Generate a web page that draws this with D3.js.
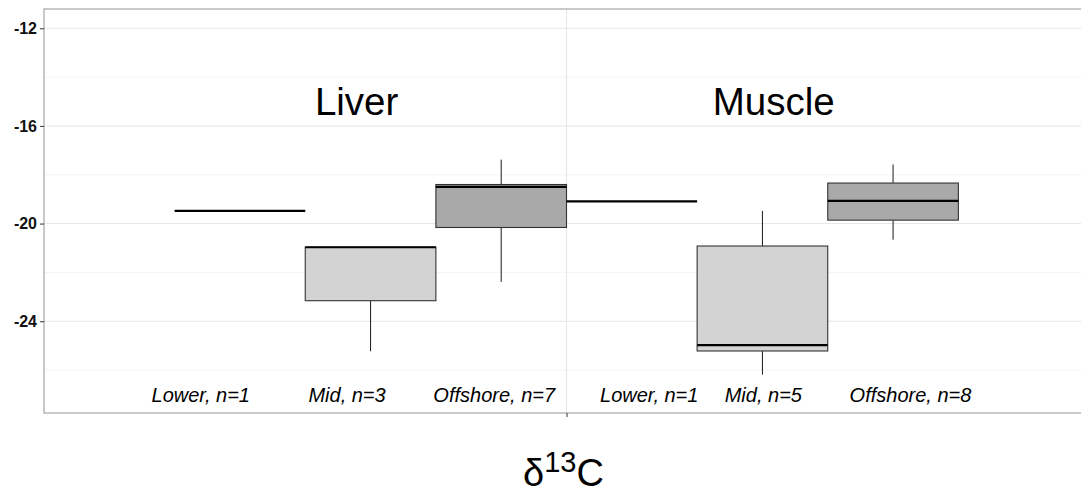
<!DOCTYPE html>
<html><head><meta charset="utf-8">
<script src="https://cdn.jsdelivr.net/npm/d3@7"></script>
<style>body{margin:0;background:#fff} svg{display:block}</style>
</head><body>
<svg id="chart" width="1081" height="494"></svg>
<script>
// Box-plot summaries of δ13C by tissue and zone
const tissues = ["Liver", "Liver", "Liver", "Muscle", "Muscle", "Muscle"];
const zones = ["Lower", "Mid", "Offshore", "Lower", "Mid", "Offshore"];
const lowerWhisker = [-19.48, -25.23, -22.39, -19.09, -26.19, -20.66];
const q1 = [-19.48, -23.16, -20.16, -19.09, -25.22, -19.86];
const median = [-19.48, -20.97, -18.50, -19.09, -24.98, -19.07];
const q3 = [-19.48, -20.97, -18.40, -19.09, -20.92, -18.34];
const upperWhisker = [-19.48, -20.97, -17.38, -19.09, -19.48, -17.58];

// annotation text and where it sits in data units
const countLabels = ["Lower, n=1", "Mid, n=3", "Offshore, n=7", "Lower, n=1", "Mid, n=5", "Offshore, n=8"];
const countLabelX = [0.580, 0.748, 0.917, 1.095, 1.226, 1.395];
const countLabelY = -27;
const tissueLabels = ["Liver", "Muscle"];
const tissueLabelX = [0.759, 1.238];
const tissueLabelY = -15;

const yMajorTicks = [-24, -20, -16, -12];
const yMinorTicks = [-26, -22, -18, -14];

const zoneFill = { Lower: "#ffffff", Mid: "#d3d3d3", Offshore: "#a9a9a9" };
const fontStack = "Liberation Sans, Arial, sans-serif";

const svg = d3.select("#chart");
const panel = { left: 44, top: 9, right: 1089, bottom: 413 };

// single discrete x position at 1, boxes dodged across a 0.9 width
const x = d3.scaleLinear().domain([0.4, 1.6]).range([panel.left, panel.right]);
const y = d3.scaleLinear().domain([-27.76, -11.21]).range([panel.bottom, panel.top]);

const dodgeWidth = 0.9;
const slot = dodgeWidth / zones.length;
const boxes = zones.map((z, i) => ({
  zone: z, tissue: tissues[i],
  x0: 1 - dodgeWidth / 2 + i * slot,
  x1: 1 - dodgeWidth / 2 + (i + 1) * slot,
  lw: lowerWhisker[i], q1: q1[i], med: median[i], q3: q3[i], uw: upperWhisker[i]
}));

svg.append("defs").append("clipPath").attr("id", "panelClip")
  .append("rect").attr("x", panel.left).attr("y", panel.top)
  .attr("width", panel.right - panel.left).attr("height", panel.bottom - panel.top);

const g = svg.append("g").attr("clip-path", "url(#panelClip)");

// grid
g.selectAll("line.minor").data(yMinorTicks).join("line")
  .attr("x1", panel.left).attr("x2", panel.right)
  .attr("y1", d => y(d)).attr("y2", d => y(d))
  .attr("stroke", "#f3f3f3").attr("stroke-width", 1);
g.selectAll("line.major").data(yMajorTicks).join("line")
  .attr("x1", panel.left).attr("x2", panel.right)
  .attr("y1", d => y(d)).attr("y2", d => y(d))
  .attr("stroke", "#e6e6e6").attr("stroke-width", 1.1);
g.append("line")
  .attr("x1", x(1)).attr("x2", x(1))
  .attr("y1", panel.top).attr("y2", panel.bottom)
  .attr("stroke", "#e6e6e6").attr("stroke-width", 1.1);

// whiskers
const bx = g.selectAll("g.box").data(boxes).join("g");
bx.append("line")
  .attr("x1", d => x((d.x0 + d.x1) / 2)).attr("x2", d => x((d.x0 + d.x1) / 2))
  .attr("y1", d => y(d.q3)).attr("y2", d => y(d.uw))
  .attr("stroke", "#1a1a1a").attr("stroke-width", 1);
bx.append("line")
  .attr("x1", d => x((d.x0 + d.x1) / 2)).attr("x2", d => x((d.x0 + d.x1) / 2))
  .attr("y1", d => y(d.q1)).attr("y2", d => y(d.lw))
  .attr("stroke", "#1a1a1a").attr("stroke-width", 1);
// boxes
bx.append("rect")
  .attr("x", d => x(d.x0)).attr("width", d => x(d.x1) - x(d.x0))
  .attr("y", d => y(d.q3)).attr("height", d => Math.max(0, y(d.q1) - y(d.q3)))
  .attr("fill", d => zoneFill[d.zone])
  .attr("stroke", "#333333").attr("stroke-width", 1.1);
// medians
bx.append("line")
  .attr("x1", d => x(d.x0)).attr("x2", d => x(d.x1))
  .attr("y1", d => y(d.med)).attr("y2", d => y(d.med))
  .attr("stroke", "#000").attr("stroke-width", 2.2);

// annotations
g.selectAll("text.count").data(countLabels).join("text")
  .attr("x", (d, i) => x(countLabelX[i])).attr("y", y(countLabelY))
  .attr("dy", "0.36em").attr("text-anchor", "middle")
  .style("font-family", fontStack)
  .style("font-style", "italic").style("font-size", "20px").attr("fill", "#000")
  .text(d => d);
g.selectAll("text.tissue").data(tissueLabels).join("text")
  .attr("x", (d, i) => x(tissueLabelX[i])).attr("y", y(tissueLabelY))
  .attr("dy", "0.36em").attr("text-anchor", "middle")
  .style("font-family", fontStack)
  .style("font-size", "38.5px").attr("fill", "#000")
  .text(d => d);

// panel border
svg.append("rect")
  .attr("x", panel.left).attr("y", panel.top)
  .attr("width", panel.right - panel.left).attr("height", panel.bottom - panel.top)
  .attr("fill", "none").attr("stroke", "#b3b3b3").attr("stroke-width", 1.4);

// y axis
const yAxis = svg.append("g").attr("transform", `translate(${panel.left},0)`)
  .call(d3.axisLeft(y).tickValues(yMajorTicks).tickSize(4).tickPadding(3).tickFormat(d3.format("d")));
yAxis.select(".domain").remove();
yAxis.selectAll(".tick line").attr("stroke", "#333");
yAxis.selectAll(".tick text")
  .style("font-family", fontStack)
  .style("font-weight", "bold").style("font-size", "16px").attr("fill", "#111")
  .text(d => d < 0 ? "-" + Math.abs(d) : d);

// x axis: a single tick, no label
const xAxis = svg.append("g").attr("transform", `translate(0,${panel.bottom})`)
  .call(d3.axisBottom(x).tickValues([1]).tickSize(4).tickFormat(""));
xAxis.select(".domain").remove();
xAxis.selectAll(".tick line").attr("stroke", "#333");

// axis title δ13C
const title = svg.append("text")
  .attr("x", x(1) - 3).attr("y", 486)
  .attr("text-anchor", "middle")
  .style("font-family", fontStack)
  .style("font-size", "38px").attr("fill", "#000");
title.append("tspan").text("δ");
title.append("tspan").style("font-size", "29px").attr("dy", -14).text("13");
title.append("tspan").attr("dy", 14).text("C");
</script>
</body></html>
